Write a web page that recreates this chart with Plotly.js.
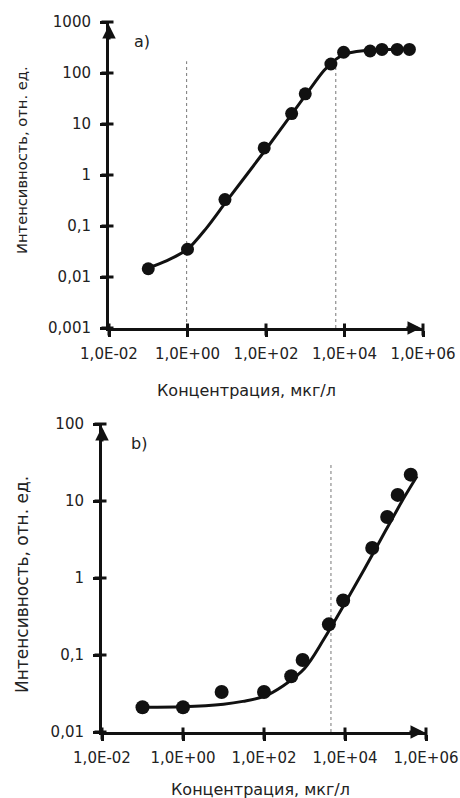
<!DOCTYPE html>
<html>
<head>
<meta charset="utf-8">
<script src="https://cdn.plot.ly/plotly-3.0.1.min.js"></script>
<style>html,body{margin:0;padding:0;background:#fff;}#chart{width:460px;height:798px;}</style>
</head>
<body>
<div id="chart"></div>
<script>
// ---- Panel a) data ----
const concA = [0.1, 1, 9, 90, 450, 1000, 4500, 9500, 45000, 90000, 220000, 450000];
const intA  = [0.0145, 0.035, 0.33, 3.4, 16, 39, 150, 255, 270, 290, 290, 290];
const fitConcA = [0.1, 0.3, 1, 3, 10, 100, 1000, 3000, 6000, 10000, 30000, 100000, 500000];
const fitIntA  = [0.015, 0.021, 0.035, 0.09, 0.31, 3.2, 36, 112, 185, 235, 272, 288, 295];
const dashA1X = [0.95, 0.95], dashA1Y = [0.001, 170];
const dashA2X = [6000, 6000], dashA2Y = [0.001, 170];

// ---- Panel b) data ----
const concB = [0.1, 1, 9, 100, 470, 900, 4000, 9000, 47000, 110000, 200000, 420000];
const intB  = [0.021, 0.021, 0.033, 0.033, 0.053, 0.086, 0.25, 0.51, 2.45, 6.2, 12, 22];
const fitConcB = [0.1, 1, 10, 30, 100, 300, 1000, 3000, 10000, 30000, 100000, 300000, 600000];
const fitIntB  = [0.021, 0.0213, 0.023, 0.025, 0.029, 0.04, 0.067, 0.16, 0.47, 1.3, 4.1, 11.5, 21];
const dashBX = [4500, 4500], dashBY = [0.01, 31];

// ---- tick labels ----
const xTickVals = [0.01, 1, 100, 10000, 1000000];
const xTickText = ['1,0E-02', '1,0E+00', '1,0E+02', '1,0E+04', '1,0E+06'];
const yTickValsA = [0.001, 0.01, 0.1, 1, 10, 100, 1000];
const yTickTextA = ['0,001', '0,01', '0,1', '1', '10', '100', '1000'];
const yTickValsB = [0.01, 0.1, 1, 10, 100];
const yTickTextB = ['0,01', '0,1', '1', '10', '100'];

const xTitle = 'Концентрация, мкг/л';
const yTitle = 'Интенсивность, отн. ед.';

const FONT = 'DejaVu Sans, sans-serif';
const INK = '#111111';

const traces = [
  {x: dashA1X, y: dashA1Y, xaxis: 'x', yaxis: 'y', mode: 'lines', line: {color: '#777', width: 1, dash: '3px,3px'}, hoverinfo: 'skip'},
  {x: dashA2X, y: dashA2Y, xaxis: 'x', yaxis: 'y', mode: 'lines', line: {color: '#777', width: 1, dash: '3px,3px'}, hoverinfo: 'skip'},
  {x: fitConcA, y: fitIntA, xaxis: 'x', yaxis: 'y', mode: 'lines', line: {color: INK, width: 3, shape: 'spline', smoothing: 0.8}},
  {x: concA, y: intA, xaxis: 'x', yaxis: 'y', mode: 'markers', marker: {color: INK, size: 13}},
  {x: dashBX, y: dashBY, xaxis: 'x2', yaxis: 'y2', mode: 'lines', line: {color: '#777', width: 1, dash: '3px,3px'}, hoverinfo: 'skip'},
  {x: fitConcB, y: fitIntB, xaxis: 'x2', yaxis: 'y2', mode: 'lines', line: {color: INK, width: 3, shape: 'spline', smoothing: 1}},
  {x: concB, y: intB, xaxis: 'x2', yaxis: 'y2', mode: 'markers', marker: {color: INK, size: 14}}
];

const W = 460, H = 798;
const rangeX = [-2, 6], rangeYA = [-3, 3], rangeYB = [-2, 2];
const domAx = [109 / W, 423 / W], domAy = [1 - 328 / H, 1 - 22 / H];
const domBx = [102 / W, 426 / W], domBy = [1 - 732 / H, 1 - 424 / H];

function axisBase(extra) {
  return Object.assign({
    type: 'log', showgrid: false, zeroline: false, showline: true,
    linecolor: INK, linewidth: 3, ticks: 'outside', ticklen: 6, tickwidth: 3, tickcolor: INK,
    tickmode: 'array', tickfont: {family: FONT, size: 15, color: '#222'}, fixedrange: true
  }, extra);
}

// crossing tick marks (both sides of the axis line), in paper coordinates
function toPaper(v, dom, rng) {
  return dom[0] + (Math.log10(v) - rng[0]) / (rng[1] - rng[0]) * (dom[1] - dom[0]);
}
const shapes = [];
function crossTicks(xv, yv, domX, domY, rngY) {
  const dx = 6 / W, dy = 6 / H;
  xv.forEach(v => {
    const p = toPaper(v, domX, rangeX);
    shapes.push({type: 'line', layer: 'above', xref: 'paper', yref: 'paper', x0: p, x1: p, y0: domY[0] - dy - 1.5 / H, y1: domY[0] + dy - 1.5 / H, line: {color: INK, width: 3}});
  });
  yv.forEach(v => {
    const p = toPaper(v, domY, rngY);
    shapes.push({type: 'line', layer: 'above', xref: 'paper', yref: 'paper', x0: domX[0] - dx - 1.5 / W, x1: domX[0] + dx - 1.5 / W, y0: p, y1: p, line: {color: INK, width: 3}});
  });
}
crossTicks(xTickVals, yTickValsA, domAx, domAy, rangeYA);
crossTicks(xTickVals, yTickValsB, domBx, domBy, rangeYB);

const annotations = [
  // axis arrows
  {xref: 'x', yref: 'y', x: -2, y: 3 - 3 / 51, ax: 0, ay: 16, text: '', showarrow: true, arrowhead: 2, arrowsize: 0.9, arrowwidth: 3, arrowcolor: INK},
  {xref: 'x', yref: 'y', x: 6 - 2 / 39, y: -3, ax: -16, ay: 0, text: '', showarrow: true, arrowhead: 2, arrowsize: 0.9, arrowwidth: 3, arrowcolor: INK},
  {xref: 'x2', yref: 'y2', x: -2, y: 2 - 3 / 77, ax: 0, ay: 16, text: '', showarrow: true, arrowhead: 2, arrowsize: 0.9, arrowwidth: 3, arrowcolor: INK},
  {xref: 'x2', yref: 'y2', x: 6 - 2 / 40, y: -2, ax: -16, ay: 0, text: '', showarrow: true, arrowhead: 2, arrowsize: 0.9, arrowwidth: 3, arrowcolor: INK},
  // panel labels
  {xref: 'paper', yref: 'paper', x: 132 / W, y: 1 - 42 / H, xanchor: 'left', yanchor: 'middle', text: 'a)', showarrow: false, font: {family: FONT, size: 16, color: '#222'}},
  {xref: 'paper', yref: 'paper', x: 129 / W, y: 1 - 443 / H, xanchor: 'left', yanchor: 'middle', text: 'b)', showarrow: false, font: {family: FONT, size: 16, color: '#222'}},
  // axis titles
  {xref: 'paper', yref: 'paper', x: 246 / W, y: 1 - 390 / H, xanchor: 'center', yanchor: 'middle', text: xTitle, showarrow: false, font: {family: FONT, size: 16, color: '#222'}},
  {xref: 'paper', yref: 'paper', x: 260 / W, y: 1 - 789 / H, xanchor: 'center', yanchor: 'middle', text: xTitle, showarrow: false, font: {family: FONT, size: 16, color: '#222'}},
  {xref: 'paper', yref: 'paper', x: 21 / W, y: 1 - 160 / H, xanchor: 'center', yanchor: 'middle', textangle: -90, text: yTitle, showarrow: false, font: {family: FONT, size: 14.7, color: '#222'}},
  {xref: 'paper', yref: 'paper', x: 22 / W, y: 1 - 585 / H, xanchor: 'center', yanchor: 'middle', textangle: -90, text: yTitle, showarrow: false, font: {family: FONT, size: 17, color: '#222'}}
];

const layout = {
  width: W, height: H,
  margin: {l: 0, r: 0, t: 0, b: 0},
  paper_bgcolor: '#fff', plot_bgcolor: '#fff',
  showlegend: false,
  xaxis: axisBase({domain: domAx, anchor: 'y', range: rangeX, tickvals: xTickVals, ticktext: xTickText, ticklabelstandoff: 4}),
  yaxis: axisBase({domain: domAy, anchor: 'x', range: rangeYA, tickvals: yTickValsA, ticktext: yTickTextA, ticklabelstandoff: 6}),
  xaxis2: axisBase({domain: domBx, anchor: 'y2', range: rangeX, tickvals: xTickVals, ticktext: xTickText, ticklabelstandoff: 4}),
  yaxis2: axisBase({domain: domBy, anchor: 'x2', range: rangeYB, tickvals: yTickValsB, ticktext: yTickTextB, ticklabelstandoff: 6}),
  shapes: shapes,
  annotations: annotations
};

Plotly.newPlot('chart', traces, layout, {displayModeBar: false, staticPlot: true});
</script>
</body>
</html>
